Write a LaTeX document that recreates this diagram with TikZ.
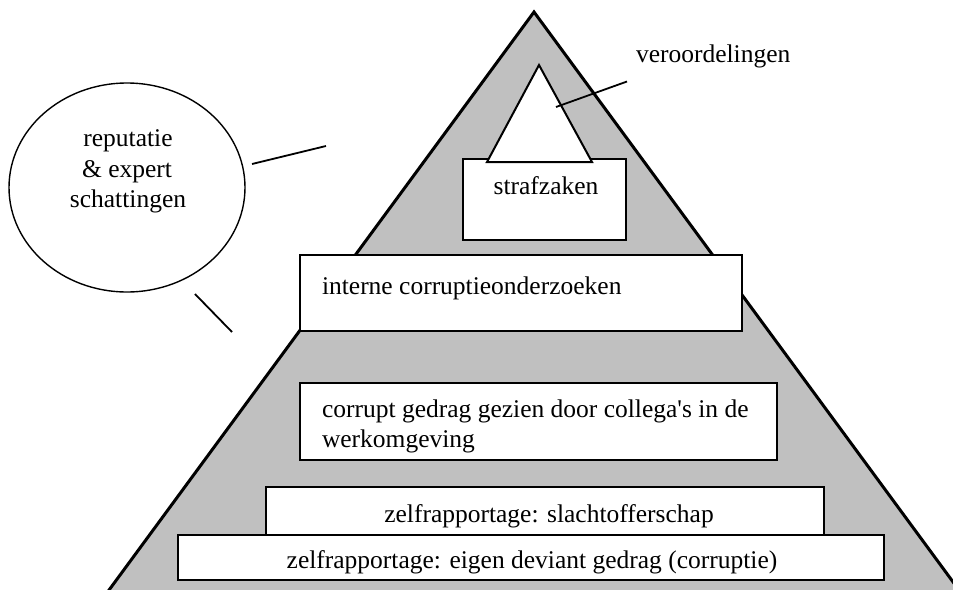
\documentclass[tikz,border=0pt]{standalone}
\usepackage{fontspec}
\setmainfont{Liberation Serif}
\newfontfamily\plainserif{Liberation Serif}
\usetikzlibrary{shapes.geometric}
\definecolor{pyrgray}{RGB}{192,192,192}
\begin{document}
\begin{tikzpicture}[x=1pt,y=-1pt,
  txt/.style={font=\fontsize{25.5}{30}\selectfont, inner sep=0pt, outer sep=0pt},
  whitebox/.style={draw, fill=white, line width=1.6pt, rectangle, inner sep=0pt, outer sep=0pt},
  thinline/.style={line width=1.8pt}]
\useasboundingbox (0,0) rectangle (953,589);
\clip (0,0) rectangle (953,589);
% big pyramid
\path[fill=pyrgray, draw=black, line width=3pt, line join=miter]
  (534,12) coordinate (apex) -- (87,620) -- (981,620) -- cycle;
% strafzaken box
\node[whitebox, minimum width=163pt, minimum height=81pt] (straf) at (544.5,199.5) {};
% inner triangle
\path[draw=black, fill=white, line width=2pt] (539,65) coordinate (iapex) -- (487,162) -- (592,162) -- cycle;
\node[txt, anchor=base] (straftxt) at (546,194) {strafzaken};
% veroordelingen
\node[txt, anchor=base west] (ver) at (636,62) {veroordelingen};
\coordinate (vtip) at (556,107);
\draw[thinline] (vtip) -- ([shift={(-9,14)}]ver.south west);
% interne
\node[whitebox, minimum width=442pt, minimum height=76pt] (interne) at (521,293) {};
\node[txt, anchor=base west] (internetxt) at (322,294) {interne corruptieonderzoeken};
% corrupt gedrag
\node[whitebox, minimum width=477pt, minimum height=77pt] (corrupt) at (538.5,421.5) {};
\node[txt, anchor=base west] (corrupt1) at (322,417) {corrupt gedrag gezien door collega{\plainserif\char"27}s in de};
\node[txt, anchor=base west] (corrupt2) at (322,447) {werkomgeving};
% slachtofferschap
\node[whitebox, minimum width=558pt, minimum height=56pt] (slacht) at (545,515) {};
\node[txt, anchor=base] (slachttxt) at (549,522) {zelfrapportage: slachtofferschap};
% eigen deviant gedrag
\node[whitebox, minimum width=706pt, minimum height=45pt] (eigen) at (531,557.5) {};
\node[txt, anchor=base] (eigentxt) at (532,568) {zelfrapportage: eigen deviant gedrag (corruptie)};
% ellipse
\node[draw, ellipse, line width=1.4pt, minimum width=236pt, minimum height=209pt, inner sep=0pt] (ell) at (127,187.5) {};
\node[txt, anchor=base] (rep1) at (128,146) {reputatie};
\node[txt, anchor=base] (rep2) at (127,177) {\& expert};
\node[txt, anchor=base] (rep3) at (128,207) {schattingen};
\coordinate (l1a) at (252,164);
\coordinate (l1b) at (326,146);
\coordinate (l2a) at (195,294);
\coordinate (l2b) at (232,332);
\draw[thinline] (l1a) -- (l1b);
\draw[thinline] (l2a) -- (l2b);
\end{tikzpicture}
\end{document}
